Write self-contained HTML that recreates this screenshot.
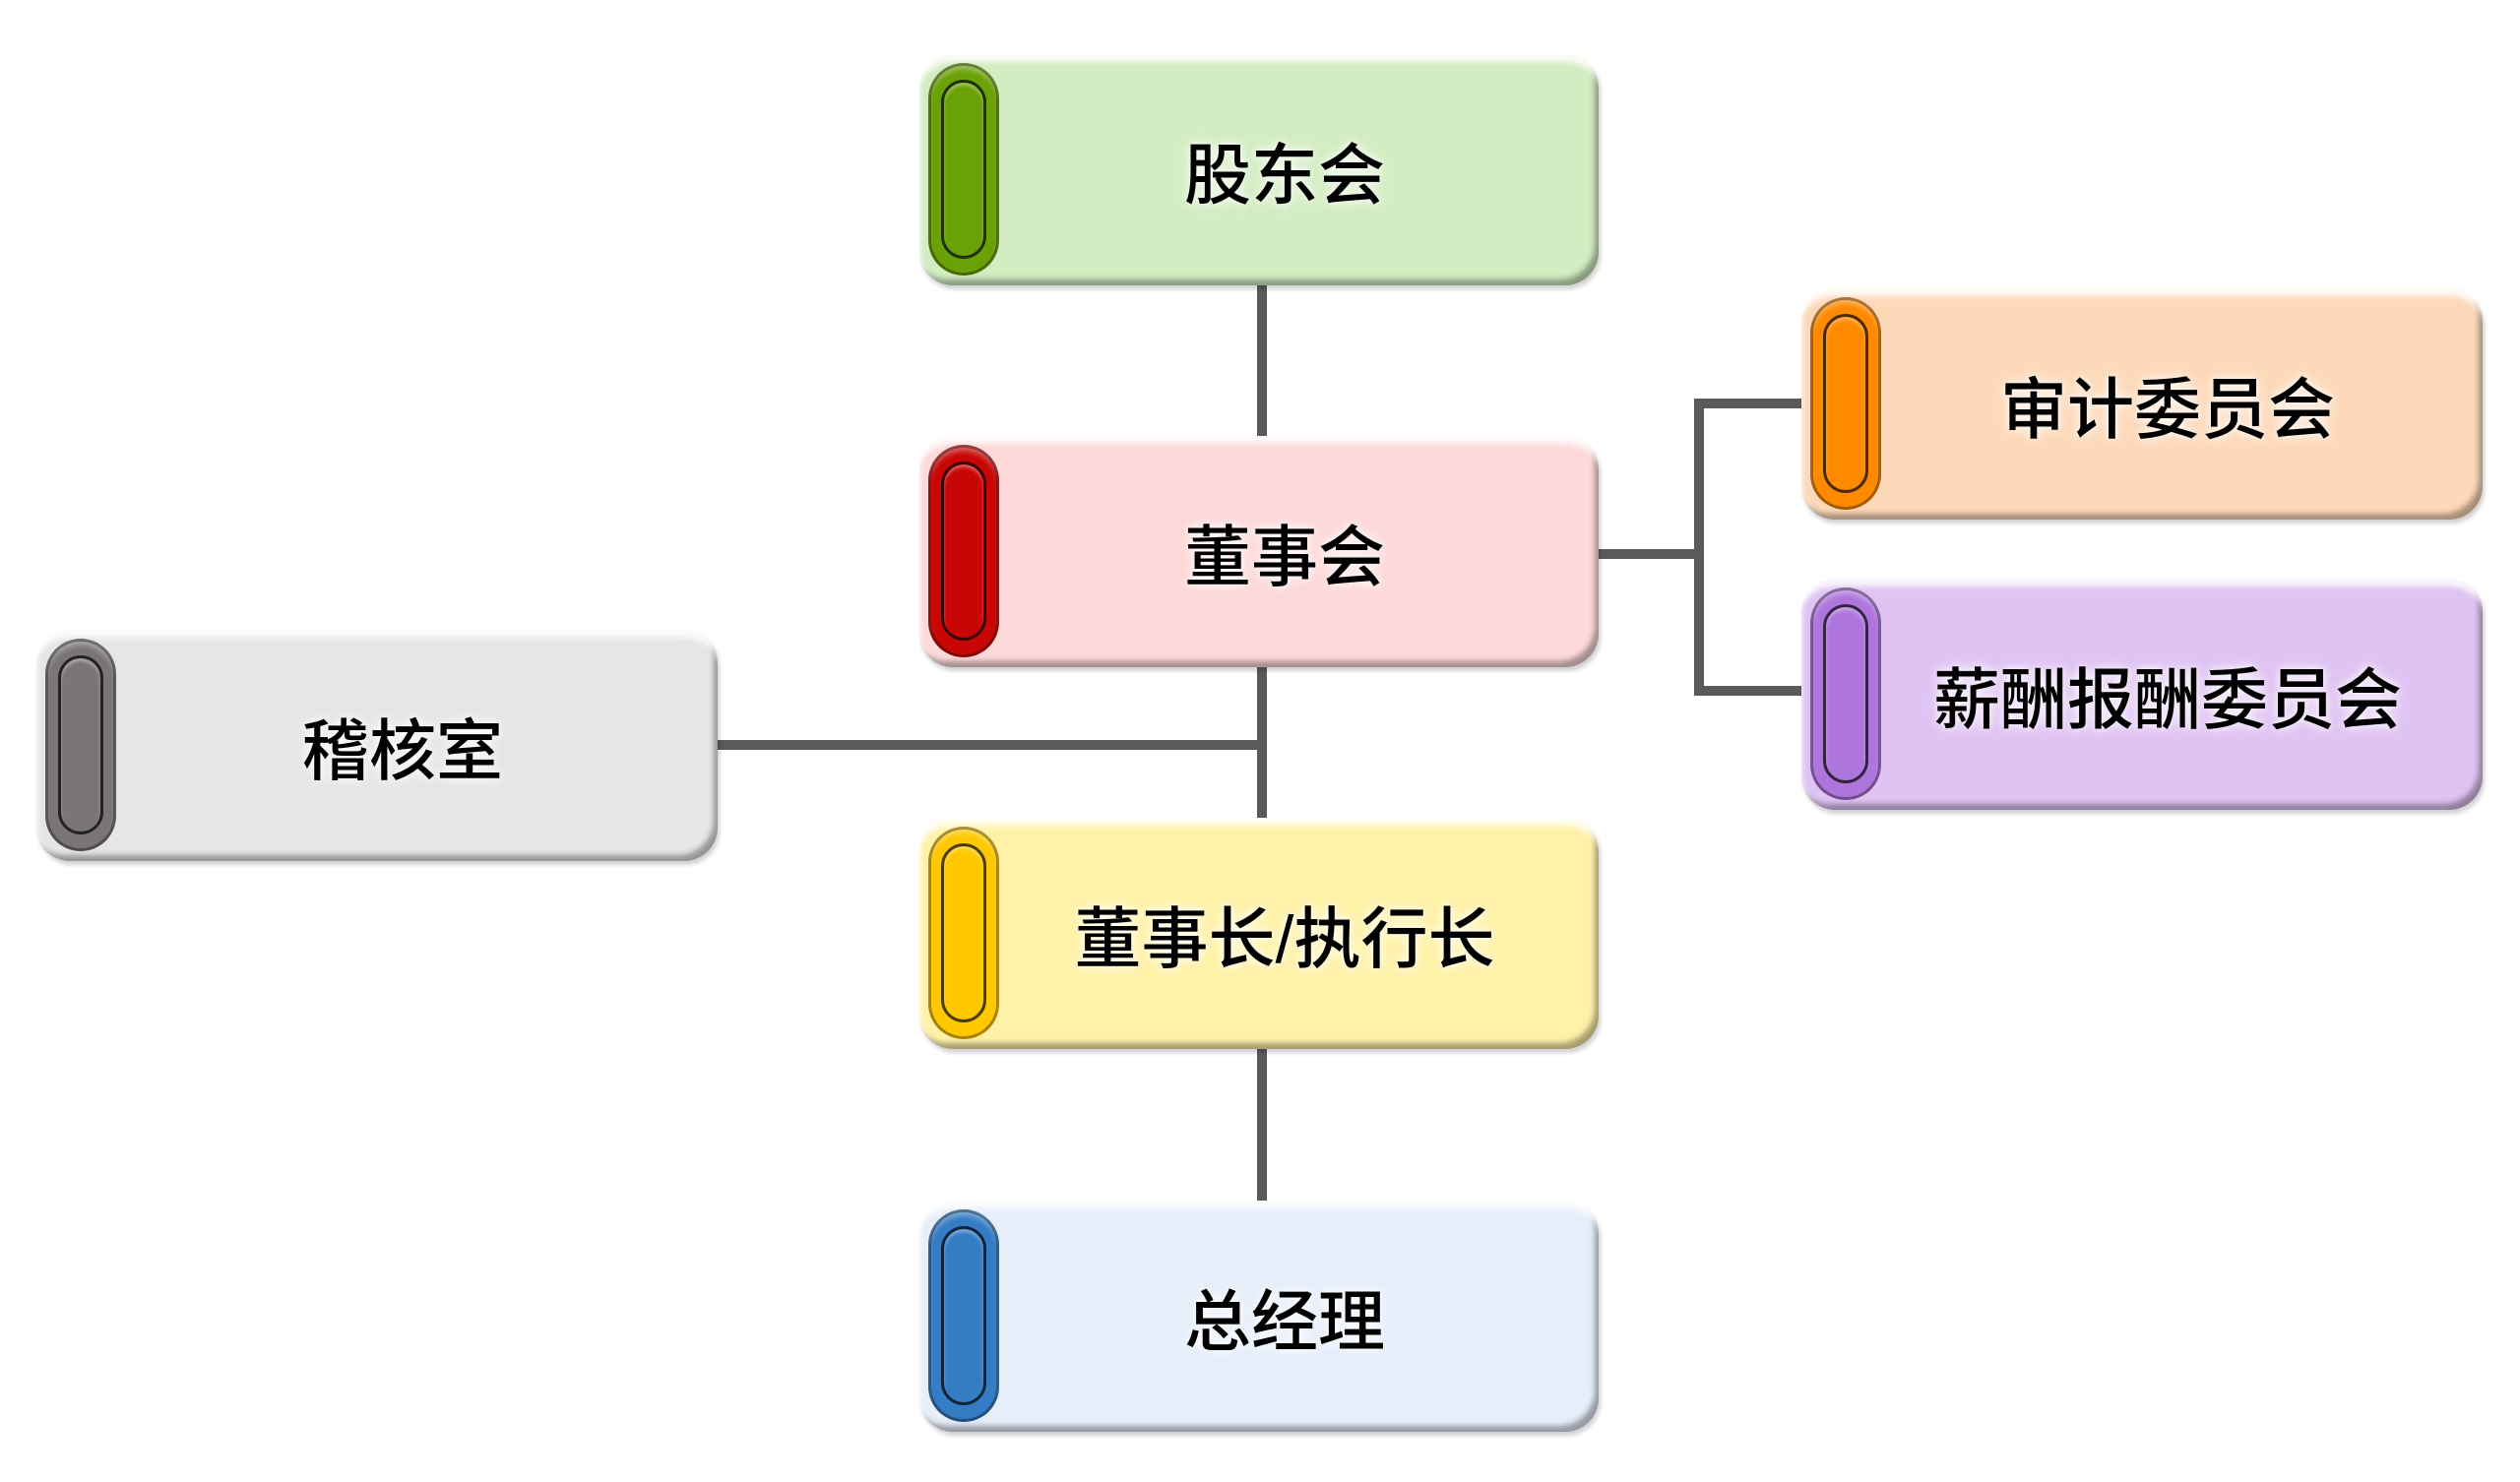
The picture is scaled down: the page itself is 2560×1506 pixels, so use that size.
<!DOCTYPE html>
<html><head><meta charset="utf-8">
<style>
html,body{margin:0;padding:0;background:#fff;}
body{width:2560px;height:1506px;position:relative;overflow:hidden;}
.ln{position:absolute;background:#5a5a5a;}
.box{position:absolute;border-radius:34px;box-sizing:border-box;
 box-shadow:inset 0 14px 6px -6px rgba(255,255,255,0.85), inset -6px -8px 6px -2px rgba(0,0,0,0.35), inset 4px 0 4px -2px rgba(255,255,255,0.6), 2px 4px 4px rgba(0,0,0,0.18);}
.pill{position:absolute;left:9px;top:9px;bottom:10px;width:72px;border-radius:36px;
 box-shadow:inset 0 0 0 3px rgba(0,0,0,0.35), inset 0 6px 6px rgba(255,255,255,0.4);}
.pill::after{content:"";position:absolute;left:13px;right:13px;top:17px;bottom:17px;border-radius:24px;
 border:3px solid rgba(0,0,0,0.7);box-shadow:inset 0 3px 3px rgba(255,255,255,0.35);}
.t{position:absolute;left:52px;right:0;top:0;bottom:0;display:flex;align-items:center;justify-content:center;
 font-family:"Liberation Sans","Noto Sans CJK SC",sans-serif;font-weight:500;font-size:68px;color:#000;
 text-shadow:0 0 8px rgba(255,255,255,0.9),0 0 14px rgba(255,255,255,0.7);}
</style></head><body>
<div class="ln" style="left:1277px;top:288px;width:10px;height:160px"></div>
<div class="ln" style="left:1277px;top:678px;width:10px;height:160px"></div>
<div class="ln" style="left:1277px;top:1066px;width:10px;height:160px"></div>
<div class="ln" style="left:728px;top:752px;width:559px;height:10px"></div>
<div class="ln" style="left:1623px;top:558px;width:104px;height:10px"></div>
<div class="ln" style="left:1721px;top:405px;width:10px;height:302px"></div>
<div class="ln" style="left:1721px;top:405px;width:112px;height:10px"></div>
<div class="ln" style="left:1721px;top:697px;width:112px;height:10px"></div>

<div class="box" style="left:934px;top:55px;width:690px;height:235px;background:#d3edc2">
 <div class="pill" style="background:#6aa106"></div><div class="t">股东会</div></div>
<div class="box" style="left:934px;top:443px;width:690px;height:235px;background:#fdd9d9">
 <div class="pill" style="background:#c90606"></div><div class="t">董事会</div></div>
<div class="box" style="left:934px;top:831px;width:690px;height:235px;background:#fff2a8">
 <div class="pill" style="background:#ffc800"></div><div class="t">董事长/执行长</div></div>
<div class="box" style="left:934px;top:1220px;width:690px;height:235px;background:#e6eefa">
 <div class="pill" style="background:#347cc4"></div><div class="t">总经理</div></div>
<div class="box" style="left:37px;top:640px;width:692px;height:235px;background:#e6e6e6">
 <div class="pill" style="background:#7a7676"></div><div class="t">稽核室</div></div>
<div class="box" style="left:1830px;top:293px;width:692px;height:235px;background:#fdd9b9">
 <div class="pill" style="background:#ff8a00"></div><div class="t">审计委员会</div></div>
<div class="box" style="left:1830px;top:588px;width:692px;height:235px;background:#dfc3f3">
 <div class="pill" style="background:#ae76dc"></div><div class="t">薪酬报酬委员会</div></div>
</body></html>
